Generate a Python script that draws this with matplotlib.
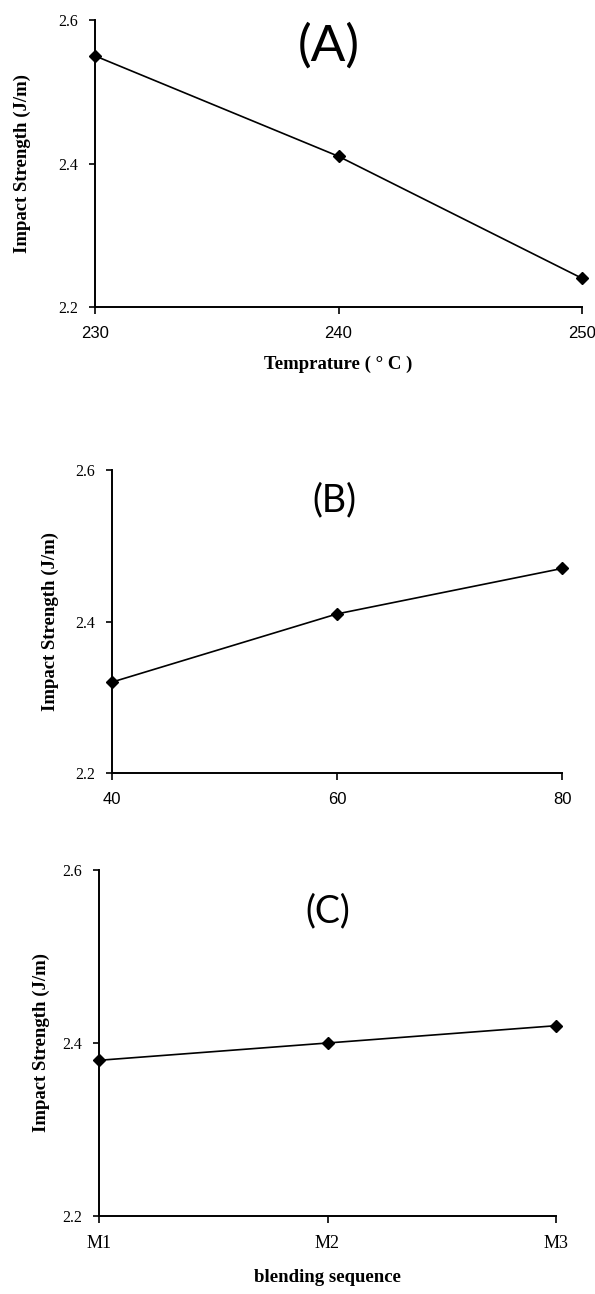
import matplotlib
matplotlib.use("Agg")
import matplotlib.pyplot as plt

# data
temp = [230, 240, 250]
impact_temp = [2.55, 2.41, 2.24]

speed = [40, 60, 80]
impact_speed = [2.32, 2.41, 2.47]

blend = ["M1", "M2", "M3"]
impact_blend = [2.38, 2.40, 2.42]

yticks = [2.2, 2.4, 2.6]

W, H = 595, 1294
fig = plt.figure(figsize=(W / 100, H / 100), dpi=100)


def px_axes(left, top, right, bottom):
    # pixel box -> figure fraction
    return fig.add_axes([left / W, 1 - bottom / H, (right - left) / W, (bottom - top) / H])


def style(ax, xfont, xsize):
    for s in ["top", "right"]:
        ax.spines[s].set_visible(False)
    for s in ["left", "bottom"]:
        ax.spines[s].set_linewidth(1.4)
    ax.set_ylim(2.2, 2.6)
    ax.set_yticks(yticks)
    ax.set_yticklabels(["2.2", "2.4", "2.6"], fontfamily="Liberation Serif", fontsize=11.5)
    ax.tick_params(axis="y", direction="out", length=4, width=1.2, pad=8)
    ax.tick_params(axis="x", direction="out", length=5, width=1.2, pad=9)
    for lab in ax.get_xticklabels():
        lab.set_fontfamily(xfont)
        lab.set_fontsize(xsize)


serif_bold = dict(fontfamily="Liberation Serif", fontweight="bold", fontsize=13.5)
line_kw = dict(color="black", lw=1.2, marker="D", ms=6.5, mfc="black", mec="black", clip_on=False)

# (A) temperature
axA = px_axes(95, 20, 582, 307)
axA.plot(temp, impact_temp, **line_kw)
axA.set_xlim(230, 250)
axA.set_xticks(temp)
axA.set_xticklabels([str(t) for t in temp])
style(axA, "Liberation Sans", 12)
axA.set_ylabel("Impact Strength (J/m)", labelpad=20, **serif_bold)
axA.set_xlabel("Temprature ( ° C )", labelpad=10, **serif_bold)
axA.text(0.48, 0.91, "(A)", transform=axA.transAxes, ha="center", va="center",
         fontfamily="Lato", fontsize=37)

# (B) screw speed
axB = px_axes(112, 470, 562, 773)
axB.plot(speed, impact_speed, **line_kw)
axB.set_xlim(40, 80)
axB.set_xticks(speed)
axB.set_xticklabels([str(s) for s in speed])
style(axB, "Liberation Sans", 12)
axB.set_ylabel("Impact Strength (J/m)", labelpad=12, **serif_bold)
axB.text(0.495, 0.9, "(B)", transform=axB.transAxes, ha="center", va="center",
         fontfamily="Lato", fontsize=27)

# (C) blending sequence
axC = px_axes(99, 870, 556, 1216)
axC.plot(range(len(blend)), impact_blend, **line_kw)
axC.set_xlim(0, len(blend) - 1)
axC.set_xticks(range(len(blend)))
axC.set_xticklabels(blend)
style(axC, "Liberation Serif", 13)
axC.set_ylabel("Impact Strength (J/m)", labelpad=9, **serif_bold)
axC.set_xlabel("blending sequence", labelpad=12, **serif_bold)
axC.text(0.5, 0.88, "(C)", transform=axC.transAxes, ha="center", va="center",
         fontfamily="Lato", fontsize=27)

fig.savefig("out.png", dpi=100)
